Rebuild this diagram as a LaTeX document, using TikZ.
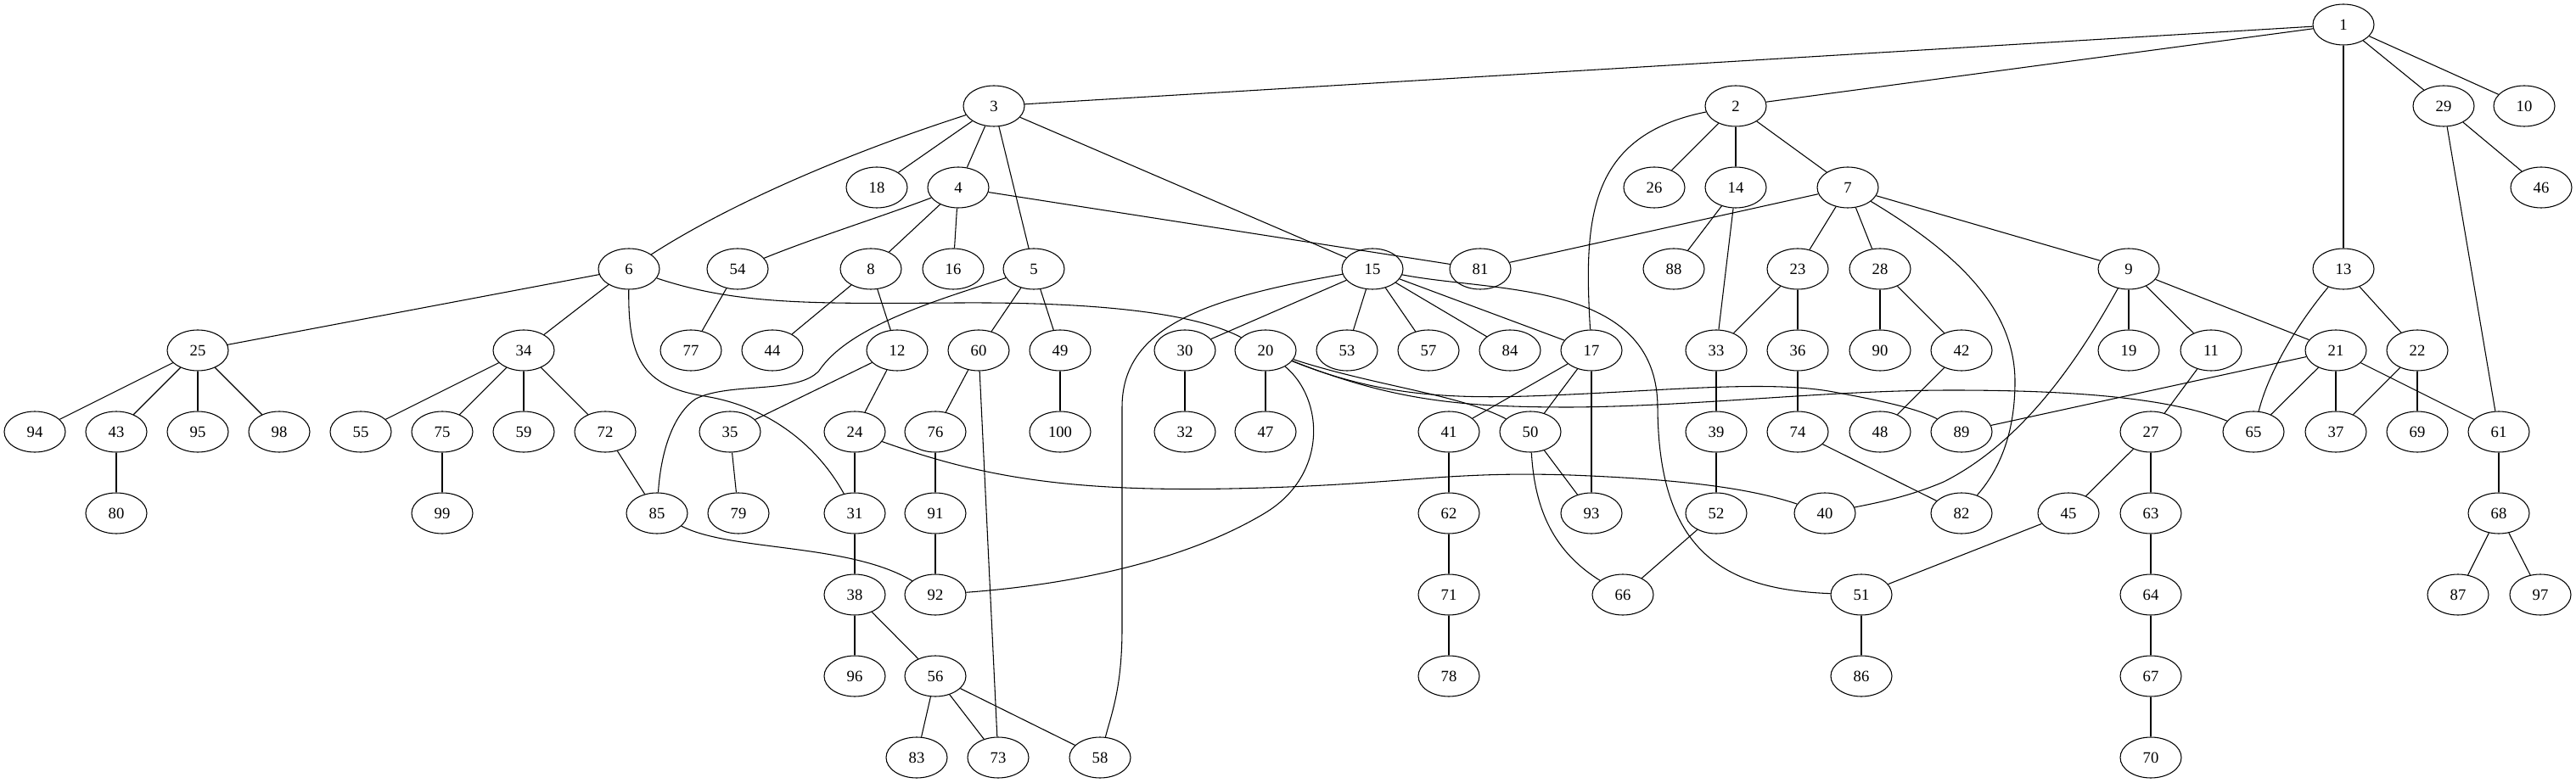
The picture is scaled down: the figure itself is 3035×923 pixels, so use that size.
\documentclass[tikz,border=0pt]{standalone}
\usepackage{fontspec}
\setmainfont{Liberation Serif}
\usetikzlibrary{shapes.geometric}
\begin{document}
\begin{tikzpicture}[x=0.75pt,y=-0.75pt,
  gnode/.style={ellipse,draw,line width=0.8pt,minimum width=54pt,minimum height=36pt,inner sep=0pt,font=\fontsize{14pt}{16pt}\selectfont},
  gedge/.style={line width=0.8pt}]
\useasboundingbox (0,0) rectangle (3035,923);
% level 0
\node[gnode] (n1) at (2761,29) {1};
% level 1
\node[gnode] (n3) at (1171,125) {3};
\node[gnode] (n2) at (2045,125) {2};
\node[gnode] (n29) at (2879,125) {29};
\node[gnode] (n10) at (2974,125) {10};
% level 2
\node[gnode] (n18) at (1033,221) {18};
\node[gnode] (n4) at (1129,221) {4};
\node[gnode] (n26) at (1949,221) {26};
\node[gnode] (n14) at (2045,221) {14};
\node[gnode] (n7) at (2177,221) {7};
\node[gnode] (n46) at (2994,221) {46};
% level 3
\node[gnode] (n6) at (741,317) {6};
\node[gnode] (n54) at (869,317) {54};
\node[gnode] (n8) at (1026,317) {8};
\node[gnode] (n16) at (1123,317) {16};
\node[gnode] (n5) at (1218,317) {5};
\node[gnode] (n15) at (1617,317) {15};
\node[gnode] (n81) at (1744,317) {81};
\node[gnode] (n88) at (1972,317) {88};
\node[gnode] (n23) at (2118,317) {23};
\node[gnode] (n28) at (2215,317) {28};
\node[gnode] (n9) at (2508,317) {9};
\node[gnode] (n13) at (2761,317) {13};
% level 4
\node[gnode] (n25) at (233,413) {25};
\node[gnode] (n34) at (617,413) {34};
\node[gnode] (n77) at (814,413) {77};
\node[gnode] (n44) at (910,413) {44};
\node[gnode] (n12) at (1057,413) {12};
\node[gnode] (n60) at (1153,413) {60};
\node[gnode] (n49) at (1249,413) {49};
\node[gnode] (n30) at (1396,413) {30};
\node[gnode] (n20) at (1491,413) {20};
\node[gnode] (n53) at (1587,413) {53};
\node[gnode] (n57) at (1683,413) {57};
\node[gnode] (n84) at (1779,413) {84};
\node[gnode] (n17) at (1875,413) {17};
\node[gnode] (n33) at (2022,413) {33};
\node[gnode] (n36) at (2118,413) {36};
\node[gnode] (n90) at (2215,413) {90};
\node[gnode] (n42) at (2311,413) {42};
\node[gnode] (n19) at (2508,413) {19};
\node[gnode] (n11) at (2605,413) {11};
\node[gnode] (n21) at (2752,413) {21};
\node[gnode] (n22) at (2848,413) {22};
% level 5
\node[gnode] (n94) at (41,509) {94};
\node[gnode] (n43) at (137,509) {43};
\node[gnode] (n95) at (233,509) {95};
\node[gnode] (n98) at (329,509) {98};
\node[gnode] (n55) at (425,509) {55};
\node[gnode] (n75) at (521,509) {75};
\node[gnode] (n59) at (617,509) {59};
\node[gnode] (n72) at (713,509) {72};
\node[gnode] (n35) at (860,509) {35};
\node[gnode] (n24) at (1007,509) {24};
\node[gnode] (n76) at (1102,509) {76};
\node[gnode] (n100) at (1249,509) {100};
\node[gnode] (n32) at (1396,509) {32};
\node[gnode] (n47) at (1491,509) {47};
\node[gnode] (n41) at (1707,509) {41};
\node[gnode] (n50) at (1803,509) {50};
\node[gnode] (n39) at (2022,509) {39};
\node[gnode] (n74) at (2118,509) {74};
\node[gnode] (n48) at (2215,509) {48};
\node[gnode] (n89) at (2311,509) {89};
\node[gnode] (n27) at (2534,509) {27};
\node[gnode] (n65) at (2655,509) {65};
\node[gnode] (n37) at (2752,509) {37};
\node[gnode] (n69) at (2848,509) {69};
\node[gnode] (n61) at (2944,509) {61};
% level 6
\node[gnode] (n80) at (137,605) {80};
\node[gnode] (n99) at (521,605) {99};
\node[gnode] (n85) at (774,605) {85};
\node[gnode] (n79) at (870,605) {79};
\node[gnode] (n31) at (1007,605) {31};
\node[gnode] (n91) at (1102,605) {91};
\node[gnode] (n62) at (1707,605) {62};
\node[gnode] (n93) at (1875,605) {93};
\node[gnode] (n52) at (2022,605) {52};
\node[gnode] (n40) at (2150,605) {40};
\node[gnode] (n82) at (2311,605) {82};
\node[gnode] (n45) at (2437,605) {45};
\node[gnode] (n63) at (2534,605) {63};
\node[gnode] (n68) at (2944,605) {68};
% level 7
\node[gnode] (n38) at (1007,701) {38};
\node[gnode] (n92) at (1102,701) {92};
\node[gnode] (n71) at (1707,701) {71};
\node[gnode] (n66) at (1912,701) {66};
\node[gnode] (n51) at (2193,701) {51};
\node[gnode] (n64) at (2534,701) {64};
\node[gnode] (n87) at (2896,701) {87};
\node[gnode] (n97) at (2993,701) {97};
% level 8
\node[gnode] (n96) at (1007,797) {96};
\node[gnode] (n56) at (1102,797) {56};
\node[gnode] (n78) at (1707,797) {78};
\node[gnode] (n86) at (2193,797) {86};
\node[gnode] (n67) at (2534,797) {67};
% level 9
\node[gnode] (n83) at (1080,893) {83};
\node[gnode] (n73) at (1176,893) {73};
\node[gnode] (n58) at (1296,893) {58};
\node[gnode] (n70) at (2534,893) {70};

% straight edges
\foreach \a/\b in {1/3,1/2,1/13,1/29,1/10,
  2/26,2/14,2/7,
  3/18,3/4,3/5,3/15,
  4/8,4/16,4/81,
  5/60,5/49,
  6/25,6/34,
  7/81,7/23,7/28,7/9,
  8/44,8/12,
  9/19,9/11,9/21,
  11/27,12/35,12/24,13/22,14/88,14/33,
  15/30,15/53,15/57,15/84,15/17,
  17/41,17/50,17/93,20/47,
  21/89,21/65,21/37,21/61,22/37,22/69,
  23/33,23/36,24/31,
  25/94,25/43,25/95,25/98,
  27/45,27/63,28/90,28/42,29/46,29/61,
  30/32,31/38,33/39,34/55,34/75,34/59,34/72,35/79,
  36/74,38/96,38/56,39/52,41/62,42/48,43/80,45/51,49/100,
  50/93,51/86,52/66,54/77,56/83,56/73,56/58,60/76,60/73,
  61/68,62/71,63/64,64/67,67/70,68/87,68/97,71/78,72/85,74/82,75/99,76/91,91/92}
  \draw[gedge] (n\a) -- (n\b);

% curved edges
\draw[gedge] (n2) .. controls (1870,160) and (1866,260) .. (n17);
\draw[gedge] (n3) .. controls (1000,180) and (860,240) .. (n6);
\draw[gedge] (n4) .. controls (1040,255) and (960,280) .. (n54);
\draw[gedge] (n5) .. controls (1100,355) and (1000,385) .. (965,437) .. controls (940,465) and (860,450) .. (820,470) .. controls (790,490) and (778,540) .. (n85);
\draw[gedge] (n6) .. controls (740,420) and (755,455) .. (830,467) .. controls (900,478) and (960,520) .. (n31);
\draw[gedge] (n6) .. controls (870,360) and (960,358) .. (1130,357) .. controls (1300,356) and (1410,370) .. (n20);
\draw[gedge] (n15) .. controls (1420,352) and (1322,385) .. (1322,480) -- (1322,740) .. controls (1322,810) and (1310,840) .. (n58);
\draw[gedge] (n15) .. controls (1760,345) and (1952,330) .. (1953,480) .. controls (1954,650) and (2030,695) .. (n51);
\draw[gedge] (n7) .. controls (2300,295) and (2374,360) .. (2374,450) .. controls (2374,520) and (2350,560) .. (n82);
\draw[gedge] (n9) .. controls (2440,440) and (2375,525) .. (2290,568) .. controls (2250,585) and (2215,592) .. (n40);
\draw[gedge] (n24) .. controls (1150,560) and (1250,580) .. (1450,576) .. controls (1650,572) and (1700,555) .. (1850,560) .. controls (1980,565) and (2060,575) .. (n40);
\draw[gedge] (n20) .. controls (1560,470) and (1565,560) .. (1490,605) .. controls (1390,665) and (1250,690) .. (n92);
\draw[gedge] (n20) .. controls (1620,455) and (1720,465) .. (n50);
\draw[gedge] (n20) .. controls (1620,465) and (1700,470) .. (1800,467) .. controls (1950,462) and (2080,447) .. (2160,462) .. controls (2220,473) and (2260,482) .. (n89);
\draw[gedge] (n20) .. controls (1640,472) and (1720,480) .. (1850,480) .. controls (2000,479) and (2150,460) .. (2300,460) .. controls (2450,460) and (2560,470) .. (n65);
\draw[gedge] (n13) .. controls (2715,372) and (2675,430) .. (n65);
\draw[gedge] (n85) .. controls (860,650) and (1000,640) .. (n92);
\draw[gedge] (n50) .. controls (1808,600) and (1830,650) .. (n66);
\end{tikzpicture}
\end{document}
